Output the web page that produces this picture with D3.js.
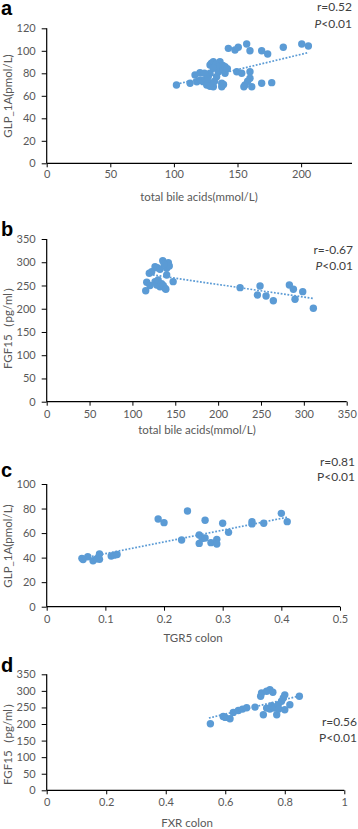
<!DOCTYPE html>
<html>
<head>
<meta charset="utf-8">
<script src="https://cdn.jsdelivr.net/npm/d3@7"></script>
<style>
html,body{margin:0;padding:0;background:#fff;}
svg{display:block;}
</style>
</head>
<body>
<script>
// ---------- DATA ----------
const tbaA = [102,112.7,116.6,120.5,118,123,121,125.8,127,129.7,131,128.4,128.4,129.5,131,133,136.2,135,138.5,134.9,138.8,140.2,140.2,128.4,131,133.6,132,137.6,137.6,139,142.8,148,150.6,157.2,159.8,169,173.7,186,200.5,205.7,149.4,153.3,159.8,159.8,158,155.9,155,161.2,169,176.9,124,126,142];
const glpA = [69.6,71.1,78.5,80.5,72.5,72.6,74,69.6,77,71.1,68.1,68.5,87.4,89,90.3,88,90.3,86,87,81.4,82.9,85.9,80,80,84.4,77,73,71.1,68.1,70,102.2,100.7,103.1,106,100.1,100.1,97.2,103.1,106,104.3,81.4,80,81.4,75.6,73,69.6,68,68.1,71.1,71.7,80,75,84];
const trendA = [[102,70.3],[206,98.5]];

const tbaB = [115.5,116.7,119.7,122.5,126.4,129,135.4,141.9,140,143,140,132.2,120.5,126.4,128.4,130,132.2,134,138,136,139,147.5,137,225.6,248.9,245.8,255.9,264.4,283.1,287.8,298.7,289.7,311.1];
const fgfB = [238.8,257,276.2,279.7,290.5,288,303.4,299.1,287,292,272.6,284.8,250,258.2,251,262,247.4,254,244,250,241.8,258.2,296,245.3,249,229.6,227.4,217.3,251,241.8,236.7,220.3,201];
const trendB = [[116,275],[311,222]];

const tgr5C = [0.06,0.062,0.07,0.079,0.085,0.09,0.09,0.11,0.115,0.12,0.19,0.2,0.24,0.23,0.27,0.26,0.26,0.265,0.27,0.28,0.29,0.29,0.3,0.31,0.35,0.35,0.37,0.4,0.41];
const glpC = [39.4,38.5,40.7,37.5,39,43,38.6,41.3,42,42.5,71.5,68.5,78,54.4,70.4,58.4,51.6,55.5,56,52.2,54.9,51.1,68,60.6,69.3,67.5,68,76.1,69.3];
const trendC = [[0.06,39.4],[0.41,72.9]];

const fxrD = [0.55,0.593,0.6,0.616,0.627,0.644,0.658,0.672,0.7,0.719,0.722,0.739,0.75,0.76,0.728,0.739,0.75,0.756,0.765,0.778,0.773,0.78,0.789,0.795,0.8,0.8,0.817,0.849];
const fgfD = [201,223,220,216,235,241,245,249,251,283.6,293.6,298.7,303.6,296,228,248,245,255,248,258,228,245,268.6,278.5,288,243,258,283.6];
const trendD = [[0.545,218],[0.85,285]];

const xTicksA = [0,50,100,150,200];
const yTicksA = [0,20,40,60,80,100,120];
const xTicksB = [0,50,100,150,200,250,300,350];
const yTicksB = [0,50,100,150,200,250,300,350];
const xTicksC = [0,0.1,0.2,0.3,0.4,0.5];
const yTicksC = [0,20,40,60,80,100];
const xTicksD = [0,0.2,0.4,0.6,0.8,1];
const yTicksD = [0,50,100,150,200,250,300,350];

const letters = ["a","b","c","d"];
const xTitles = ["total bile acids(mmol/L)","total bile acids(mmol/L)","TGR5 colon","FXR colon"];
const yTitles = ["GLP_1A(pmol/L)","FGF15（pg/ml）","GLP_1A(pmol/L)","FGF15（pg/ml）"];
const rTexts = ["r=0.52","r=-0.67","r=0.81","r=0.56"];
const pItalic = [true,true,false,false];

// ---------- DRAW ----------
const W = 358, H = 829;
const svg = d3.select("body").append("svg").attr("width",W).attr("height",H);
const FONT = "Lato, 'Open Sans', sans-serif";
const BLUE = "#5B9BD5";
const GREY = "#595959";

const panels = [
  {xs:tbaA, ys:glpA, trend:trendA, xd:[0,240], yd:[0,120], xt:xTicksA, yt:yTicksA,
   x0:46.7, x1:352, yT:28.3, yB:163.3, tickPad:3, xTitle:[199,201], yTitle:[8,96],
   letter:[1,15], r:[352,11], p:[352,28]},
  {xs:tbaB, ys:fgfB, trend:trendB, xd:[0,350], yd:[0,350], xt:xTicksB, yt:yTicksB,
   x0:46.7, x1:346.7, yT:239, yB:401.7, tickPad:5, xTitle:[197,434], yTitle:[8,325],
   letter:[1,236], r:[353,254], p:[353,270]},
  {xs:tgr5C, ys:glpC, trend:trendC, xd:[0,0.5], yd:[0,100], xt:xTicksC, yt:yTicksC,
   x0:46.7, x1:340, yT:484, yB:606.7, tickPad:5, xTitle:[193,642], yTitle:[8,546],
   letter:[1,477], r:[355,466], p:[355,481]},
  {xs:fxrD, ys:fgfD, trend:trendD, xd:[0,1], yd:[0,350], xt:xTicksD, yt:yTicksD,
   x0:46.7, x1:344.3, yT:674.3, yB:790.3, tickPad:4, xTitle:[187,827], yTitle:[8,741],
   letter:[1,672], r:[357,726], p:[357,742]}
];

panels.forEach((p,i)=>{
  const g = svg.append("g");
  const x = d3.scaleLinear().domain(p.xd).range([p.x0,p.x1]);
  const y = d3.scaleLinear().domain(p.yd).range([p.yB,p.yT]);
  const fmt = v => d3.format("~g")(v);

  const yAxis = g.append("g").attr("transform",`translate(${p.x0},0)`)
    .call(d3.axisLeft(y).tickValues(p.yt).tickSize(5).tickPadding(6).tickFormat(fmt));
  const xAxis = g.append("g").attr("transform",`translate(0,${p.yB})`)
    .call(d3.axisBottom(x).tickValues(p.xt).tickSize(4).tickPadding(p.tickPad).tickFormat(fmt));
  [xAxis,yAxis].forEach(a=>{
    a.select(".domain").attr("stroke","#000").attr("stroke-width",1.2);
    a.selectAll(".tick line").attr("stroke","#000").attr("stroke-width",1);
    a.selectAll(".tick text").attr("fill",GREY).style("font-family",FONT).style("font-size","11px");
  });
  xAxis.select(".domain").attr("d",`M${p.x0},0H${p.x1}`);
  yAxis.select(".domain").attr("d",`M0,${p.yB}V${p.yT}`);

  g.append("g").selectAll("circle").data(p.xs.map((v,k)=>[v,p.ys[k]])).join("circle")
    .attr("cx",d=>x(d[0])).attr("cy",d=>y(d[1])).attr("r",3.7).attr("fill",BLUE);

  g.append("path").datum(p.trend)
    .attr("d",d3.line().x(d=>x(d[0])).y(d=>y(d[1])))
    .attr("stroke",BLUE).attr("stroke-width",1.7).attr("stroke-dasharray","1.8,1.6").attr("fill","none");

  g.append("text").attr("x",p.xTitle[0]).attr("y",p.xTitle[1]).attr("text-anchor","middle")
    .attr("fill",GREY).style("font-family",FONT).style("font-size","11.5px").text(xTitles[i]);
  g.append("text").attr("transform",`translate(${p.yTitle[0]},${p.yTitle[1]}) rotate(-90)`)
    .attr("text-anchor","middle").attr("dy","0.35em")
    .attr("fill",GREY).style("font-family",FONT).style("font-size","11.5px").text(yTitles[i]);

  g.append("text").attr("x",p.letter[0]).attr("y",p.letter[1])
    .attr("fill","#000").style("font-family","'Liberation Sans', Arial, sans-serif")
    .style("font-weight","bold").style("font-size","20px").text(letters[i]);

  g.append("text").attr("x",p.r[0]).attr("y",p.r[1]).attr("text-anchor","end")
    .attr("fill","#404040").style("font-family",FONT).style("font-size","12px").text(rTexts[i]);
  const pt = g.append("text").attr("x",p.p[0]).attr("y",p.p[1]).attr("text-anchor","end")
    .attr("fill","#404040").style("font-family",FONT).style("font-size","12px");
  pt.append("tspan").attr("font-style",pItalic[i]?"italic":"normal")
    .style("font-style",pItalic[i]?"italic":"normal").text("P");
  pt.append("tspan").text("<0.01");
});
</script>
</body>
</html>
